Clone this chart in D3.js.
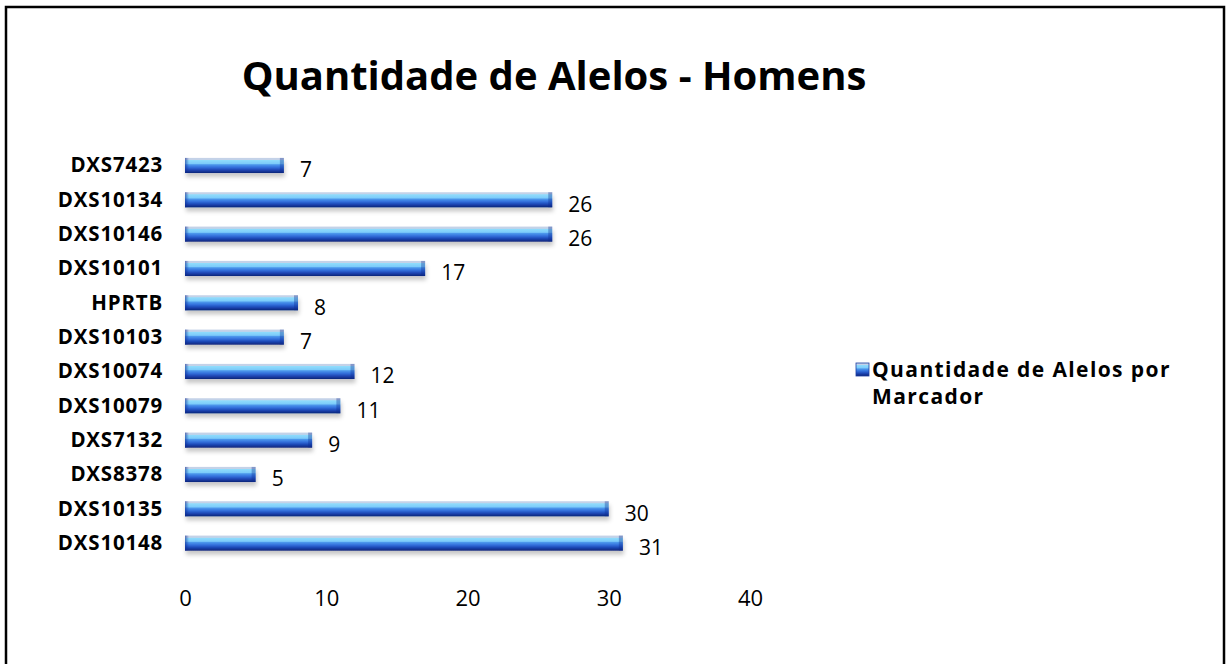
<!DOCTYPE html>
<html>
<head>
<meta charset="utf-8">
<script src="https://cdn.jsdelivr.net/npm/d3@7"></script>
<style>
  body { margin: 0; background: #fff; }
  svg { display: block; font-family: "Open Sans", "Noto Sans", sans-serif; }
</style>
</head>
<body>
<svg id="chart" width="1227" height="664"></svg>
<script>
const markers = ["DXS10148", "DXS10135", "DXS8378", "DXS7132", "DXS10079", "DXS10074",
                 "DXS10103", "HPRTB", "DXS10101", "DXS10146", "DXS10134", "DXS7423"]
const alleles = [31, 30, 5, 9, 11, 12, 7, 8, 17, 26, 26, 7]
const xTicks = [0, 10, 20, 30, 40]
const TITLE = "Quantidade de Alelos - Homens"
const LEGEND_LINES = ["Quantidade de Alelos por", "Marcador"]

const svg = d3.select("#chart")

// frame
svg.append("rect")
    .attr("x", 6).attr("y", 7)
    .attr("width", 1218).attr("height", 700)
    .attr("fill", "none")
    .attr("stroke", "#000")
    .attr("stroke-width", 2.5)

const defs = svg.append("defs")
const grad = defs.append("linearGradient")
    .attr("id", "barGrad")
    .attr("x1", 0).attr("y1", 0).attr("x2", 0).attr("y2", 1)
const stops = [[0, "#c4d2e8"], [0.12, "#c4d2e8"], [0.16, "#8fdcfc"], [0.38, "#7ccbfa"],
               [0.45, "#4d98ec"], [0.62, "#3370dc"], [0.8, "#1d46b4"], [1, "#0c2478"]]
stops.forEach(s => grad.append("stop").attr("offset", s[0]).attr("stop-color", s[1]))

const edge = defs.append("linearGradient")
    .attr("id", "edgeGrad")
    .attr("x1", 0).attr("y1", 0).attr("x2", 1).attr("y2", 0)
edge.append("stop").attr("offset", 0).attr("stop-color", "#0c2a90").attr("stop-opacity", 0.6)
edge.append("stop").attr("offset", 1).attr("stop-color", "#0c2a90").attr("stop-opacity", 0)

const shadow = defs.append("filter").attr("id", "shadow")
    .attr("x", "-5%").attr("y", "-50%").attr("width", "110%").attr("height", "250%")
shadow.append("feDropShadow")
    .attr("dx", 1).attr("dy", 4).attr("stdDeviation", 2)
    .attr("flood-color", "#000").attr("flood-opacity", 0.22)

const x = d3.scaleLinear().domain([0, 40]).range([185, 750])
const y = d3.scaleBand().domain(markers.slice().reverse()).range([148.3, 560.3]).paddingInner(0.56).paddingOuter(0.28)

// title
svg.append("text")
    .attr("x", 554).attr("y", 90)
    .attr("text-anchor", "middle")
    .style("font-size", "40px")
    .style("font-weight", "bold")
    .text(TITLE)

// bars
const bars = svg.append("g")
markers.forEach((m, i) => {
    const g = bars.append("g")
    g.append("rect")
        .attr("x", x(0)).attr("y", y(m))
        .attr("width", x(alleles[i]) - x(0))
        .attr("height", y.bandwidth())
        .attr("fill", "url(#barGrad)")
        .attr("filter", "url(#shadow)")
    g.append("rect")
        .attr("x", x(0)).attr("y", y(m))
        .attr("width", 4)
        .attr("height", y.bandwidth())
        .attr("fill", "url(#edgeGrad)")
    g.append("rect")
        .attr("x", x(alleles[i]) - 4).attr("y", y(m))
        .attr("width", 4)
        .attr("height", y.bandwidth())
        .attr("fill", "#0c2a90").attr("opacity", 0.35)
    g.append("text")
        .attr("x", x(alleles[i]) + 16)
        .attr("y", y(m) + y.bandwidth() / 2 + 12)
        .style("font-size", "21px")
        .text(alleles[i])
})

// category labels
svg.append("g").selectAll("text")
    .data(markers)
    .join("text")
    .attr("x", 163)
    .attr("y", d => y(d) + y.bandwidth() / 2 + 7)
    .attr("text-anchor", "end")
    .style("font-size", "20.5px")
    .style("font-weight", "bold")
    .style("letter-spacing", "0.8px")
    .text(d => d)

// x axis labels only
const xAxis = d3.axisBottom(x).tickValues(xTicks).tickSize(0).tickPadding(0)
const axisG = svg.append("g")
    .attr("transform", "translate(0,590)")
    .call(xAxis)
axisG.select(".domain").remove()
axisG.selectAll("text")
    .style("font-size", "22px")
    .style("font-family", "\"Open Sans\", sans-serif")
    .attr("fill", "#000")

// legend
svg.append("rect")
    .attr("x", 856).attr("y", 363)
    .attr("width", 13).attr("height", 13)
    .attr("fill", "url(#barGrad)")
    .attr("stroke", "#1d3ea0").attr("stroke-width", 0.8)
svg.append("g").selectAll("text")
    .data(LEGEND_LINES)
    .join("text")
    .attr("x", 872)
    .attr("y", (d, i) => 377 + i * 27)
    .style("font-size", "21px")
    .style("font-weight", "bold")
    .style("letter-spacing", "1.4px")
    .text(d => d)
</script>
</body>
</html>
